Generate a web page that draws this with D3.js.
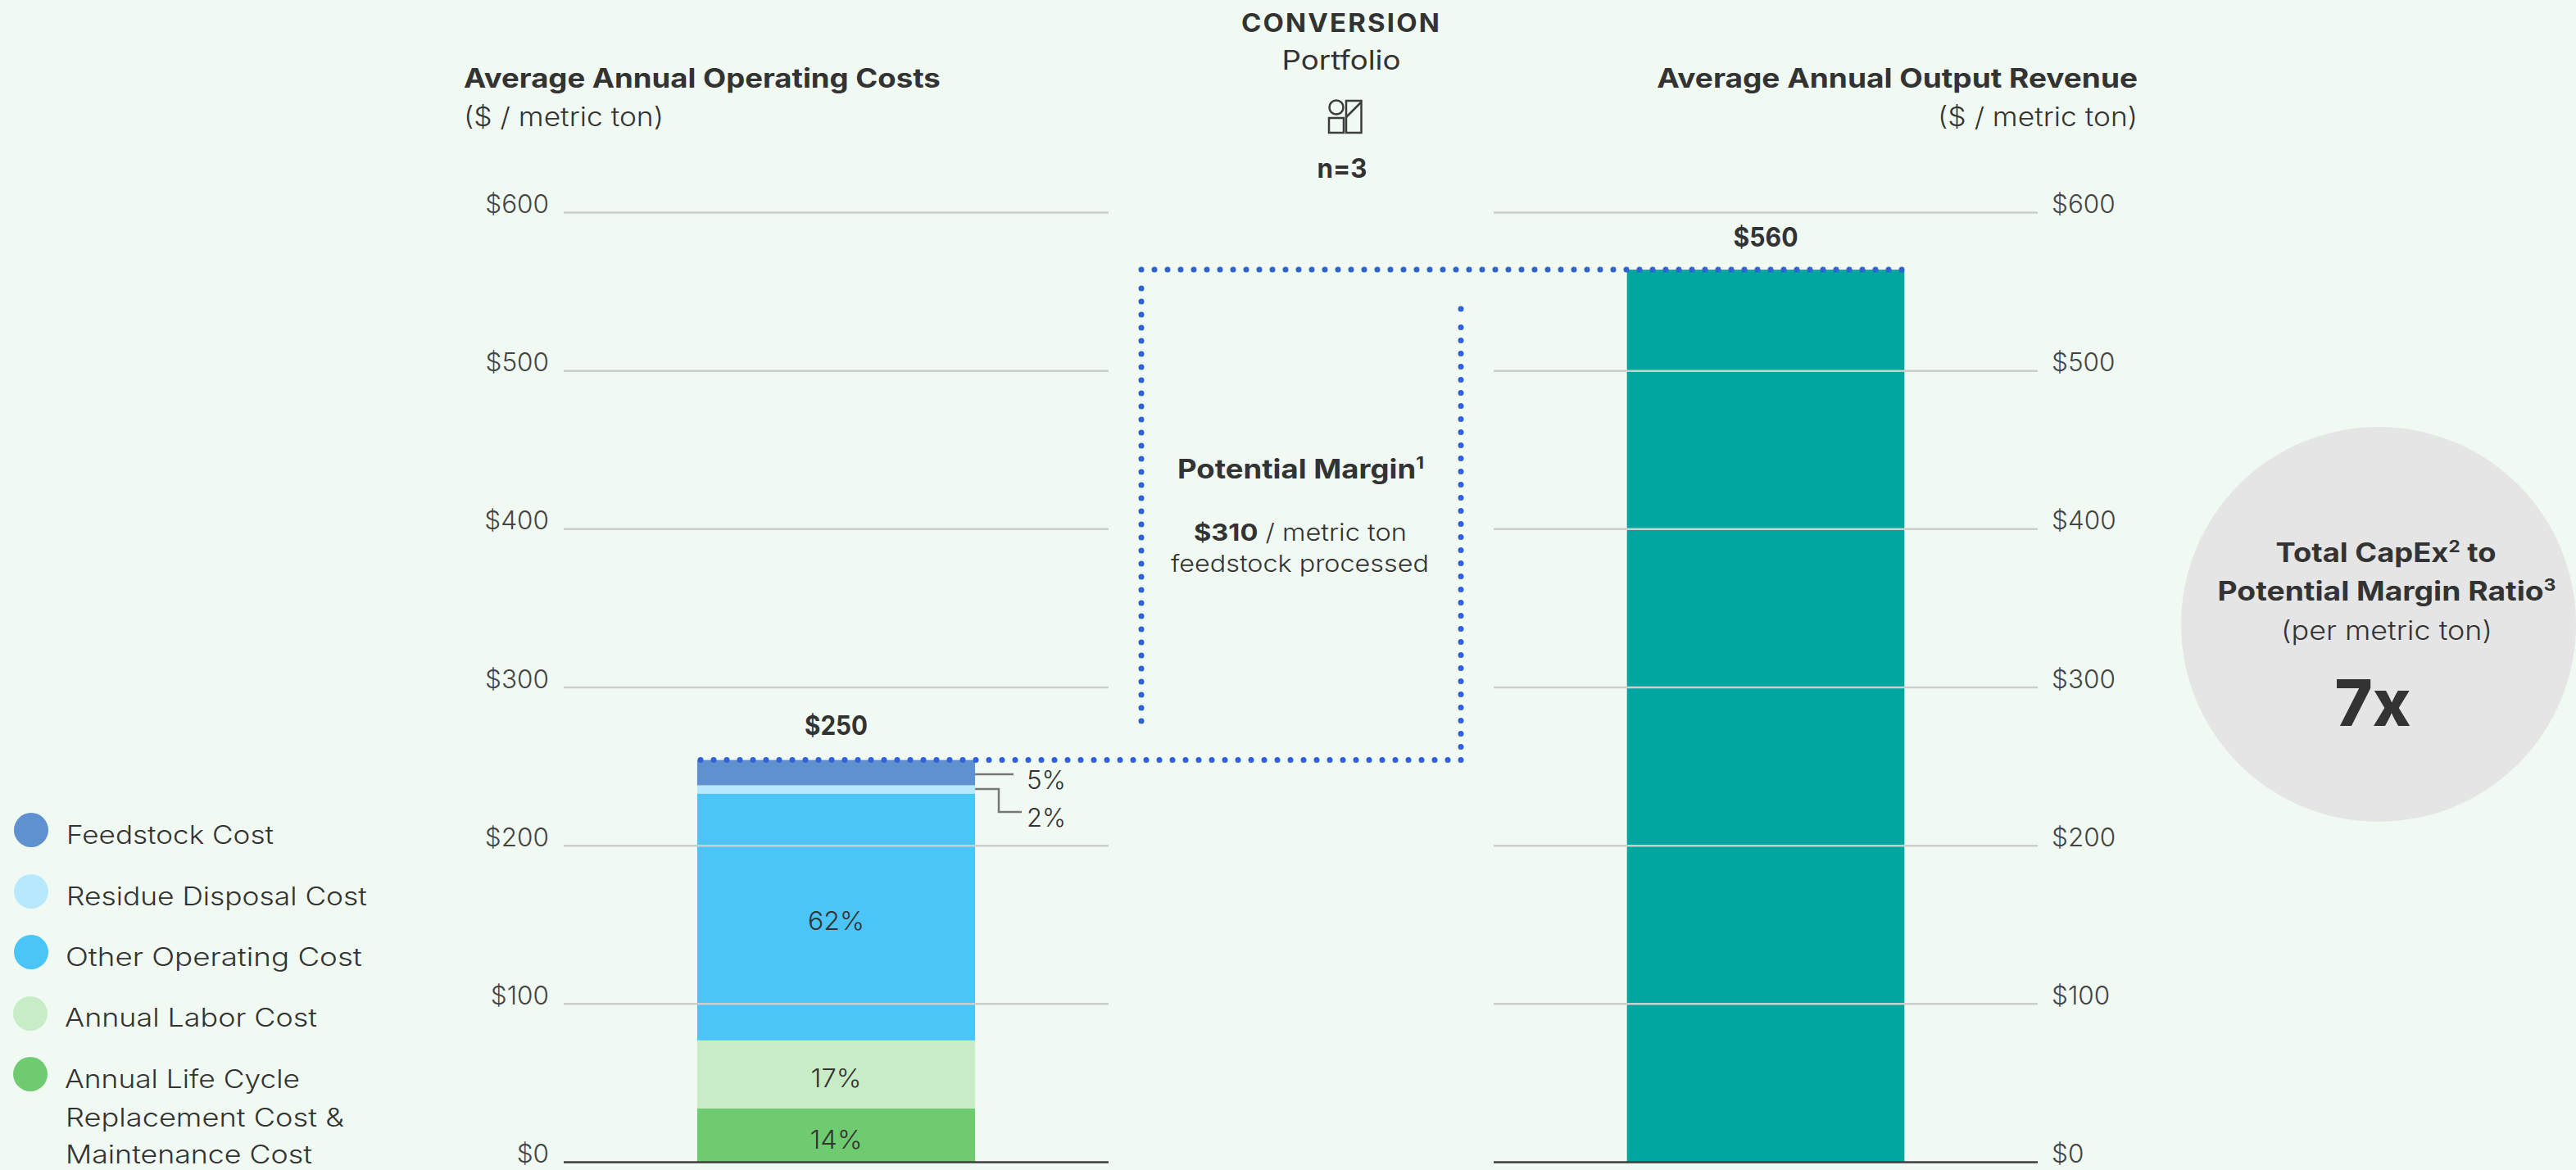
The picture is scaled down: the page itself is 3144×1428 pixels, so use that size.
<!DOCTYPE html>
<html>
<head>
<meta charset="utf-8">
<script src="https://cdn.jsdelivr.net/npm/d3@7"></script>
<style>
  html, body { margin: 0; padding: 0; background: #f0faf2; }
  svg { display: block; }
  text { font-family: Inter, "Noto Sans", sans-serif; fill: #333; }
  .axis .domain { display: none; }
  .axis line { stroke: #cdcdcd; stroke-width: 2.5; }
  .axis text { font-size: 31.5px; font-weight: 300; fill: #444; }
</style>
</head>
<body>
<div id="chart"></div>
<script>
const costNames = ["Annual Life Cycle Replacement Cost & Maintenance Cost", "Annual Labor Cost", "Other Operating Cost", "Residue Disposal Cost", "Feedstock Cost"];
const costValues = [33.7, 43, 156, 5.2, 16];
const costShares = ["14%", "17%", "62%", "2%", "5%"];
const costColors = ["#6fcb70", "#c8ecc6", "#4bc4f7", "#b8e8fd", "#5f90d0"];
const revenueValue = 563.7;
const costTotalLabel = "$250";
const revenueLabel = "$560";
const yTicks = [0, 100, 200, 300, 400, 500, 600];

const width = 3144;
const height = 1428;

const svg = d3.select("#chart").append("svg")
  .attr("width", width)
  .attr("height", height);

const y = d3.scaleLinear().domain([0, 600]).range([1418, 259]);
const xCost = d3.scaleBand().domain(["cost"]).range([688, 1353]).padding(0.3245);
const xRev = d3.scaleBand().domain(["revenue"]).range([1823, 2487]).padding(0.3245);

// text squeezed or stretched to the width it has in the reference (Montserrat is not installed)
function label(x, yPos, str, opts = {}) {
  const { size = 30, weight = 300, anchor = "start", w = null, fill = "#333", spacing = 0 } = opts;
  const t = svg.append("text")
    .attr("text-anchor", anchor)
    .attr("font-size", size)
    .attr("font-weight", weight)
    .attr("letter-spacing", spacing)
    .style("fill", fill);
  const parts = Array.isArray(str) ? str : [[str, {}]];
  parts.forEach(([s, o]) => {
    const ts = t.append("tspan").text(s);
    if (o.weight) ts.attr("font-weight", o.weight);
    if (o.sup) ts.attr("font-size", size * 0.62).attr("dy", -size * 0.36);
    if (o.after) ts.attr("dy", size * 0.36);
  });
  const k = w ? w / t.node().getComputedTextLength() : 1;
  t.attr("transform", `translate(${x},${yPos}) scale(${k},1)`);
  return t;
}

// stacked cost bar
const stack = d3.stack().keys(d3.range(costValues.length))([costValues]);
svg.append("g").selectAll("rect")
  .data(stack)
  .join("rect")
  .attr("x", xCost("cost"))
  .attr("width", xCost.bandwidth())
  .attr("y", d => y(d[0][1]))
  .attr("height", d => y(d[0][0]) - y(d[0][1]))
  .attr("fill", (d, i) => costColors[i]);

// revenue bar
svg.append("rect")
  .attr("x", xRev("revenue"))
  .attr("width", xRev.bandwidth())
  .attr("y", y(revenueValue))
  .attr("height", y(0) - y(revenueValue))
  .attr("fill", "#00a69f");

// Axes, gridlines sit over the bars
const fmtTick = d => `$${d}`;
svg.append("g")
  .attr("class", "axis")
  .attr("transform", "translate(688,0)")
  .call(d3.axisLeft(y).tickValues(yTicks).tickSize(-665).tickPadding(18).tickFormat(fmtTick))
  .selectAll("text").attr("dy", 0.5);
svg.append("g")
  .attr("class", "axis")
  .attr("transform", "translate(2487,0)")
  .call(d3.axisRight(y).tickValues(yTicks).tickSize(-664).tickPadding(17).tickFormat(fmtTick))
  .selectAll("text").attr("dy", 0.5);
svg.selectAll(".axis .tick").filter(d => d === 0).select("line")
  .style("stroke", "#3c3c3c").style("stroke-width", 2.5);

// Leaders for the two thin segments
const line = d3.line();
const barRight = xCost("cost") + xCost.bandwidth();
const leaderColor = "#777";
svg.append("path")
  .attr("d", line([[barRight, 945], [1237, 945]]))
  .attr("fill", "none").attr("stroke", leaderColor).attr("stroke-width", 2.5);
svg.append("path")
  .attr("d", line([[barRight, 963], [1219, 963], [1219, 991], [1247, 991]]))
  .attr("fill", "none").attr("stroke", leaderColor).attr("stroke-width", 2.5);

// Dotted margin bracket, ends run a pixel long so the last dot is not dropped
const yCostTop = y(d3.sum(costValues));
const yRevTop = y(revenueValue);
const dotted = (pts) => svg.append("path")
  .attr("d", line(pts))
  .attr("fill", "none")
  .attr("stroke", "#2f63d4")
  .attr("stroke-width", 7)
  .attr("stroke-linecap", "round")
  .attr("stroke-dasharray", "0 16");
dotted([[1393, yRevTop], [2322, yRevTop]]);
dotted([[1393, 352], [1393, 882]]);
dotted([[855, yCostTop], [1783, yCostTop], [1783, 399]]);
dotted([[1783, 377], [1783, 378]]);

// Headers
label(566, 107, "Average Annual Operating Costs", { size: 32, weight: 700, w: 582 });
label(566, 154, "($ / metric ton)", { size: 32, w: 244 });
label(2609, 107, "Average Annual Output Revenue", { size: 32, weight: 700, anchor: "end", w: 587 });
label(2609, 154, "($ / metric ton)", { size: 32, anchor: "end", w: 244 });

label(1637, 39, "CONVERSION", { size: 31, weight: 700, anchor: "middle", w: 244, spacing: 2 });
label(1637, 85, "Portfolio", { size: 32, anchor: "middle", w: 145, weight: 400 });
label(1638, 217, "n=3", { size: 32, weight: 700, anchor: "middle", w: 61 });

// portfolio icon
const icon = svg.append("g").attr("fill", "none").attr("stroke", "#3c3c3c").attr("stroke-width", 2.5);
icon.append("circle").attr("cx", 1631).attr("cy", 131).attr("r", 8.5);
icon.append("rect").attr("x", 1622).attr("y", 144).attr("width", 18).attr("height", 18);
icon.append("rect").attr("x", 1643).attr("y", 123).attr("width", 18.5).attr("height", 39);
icon.append("path").attr("d", line([[1643, 143], [1661, 125]]));

// Bar labels
const xCostMid = xCost("cost") + xCost.bandwidth() / 2;
label(xCostMid, 897, costTotalLabel, { size: 32, weight: 700, anchor: "middle", w: 77 });
label(xRev("revenue") + xRev.bandwidth() / 2, 301, revenueLabel, { size: 32, weight: 700, anchor: "middle", w: 79 });
label(xCostMid, 1135, costShares[2], { size: 31, weight: 300, anchor: "middle", w: 69 });
label(xCostMid, 1327, costShares[1], { size: 31, weight: 300, anchor: "middle", w: 62 });
label(xCostMid, 1402, costShares[0], { size: 31, weight: 300, anchor: "middle", w: 64 });
label(1253, 963, costShares[4], { size: 31, weight: 300, w: 48 });
label(1253, 1009, costShares[3], { size: 31, weight: 300, w: 48 });

// Margin callout
label(1437, 584, [["Potential Margin", {}], ["1", { sup: true }]], { size: 32, weight: 700, w: 301 });
label(1457, 660, [["$310", { weight: 700 }], [" / metric ton", {}]], { size: 29, w: 260 });
label(1429, 698, "feedstock processed", { size: 29, w: 315 });

// Legend
const legendRows = [
  { name: costNames[4], color: costColors[4], cx: 38, cy: 1013, lines: [[81, 1030, 253]] },
  { name: costNames[3], color: costColors[3], cx: 38, cy: 1088, lines: [[81, 1105, 367]] },
  { name: costNames[2], color: costColors[2], cx: 38, cy: 1162, lines: [[80, 1179, 362]] },
  { name: costNames[1], color: costColors[1], cx: 37, cy: 1237, lines: [[79, 1253, 308]] },
  { name: costNames[0], color: costColors[0], cx: 37, cy: 1311, lines: [[79, 1328, 287], [80, 1375, 340], [80, 1420, 301]] }
];
const wrapped = ["Annual Life Cycle", "Replacement Cost &", "Maintenance Cost"];
legendRows.forEach(row => {
  svg.append("circle")
    .attr("cx", row.cx).attr("cy", row.cy).attr("r", 21)
    .attr("fill", row.color);
  row.lines.forEach(([x, yPos, w], i) => {
    const str = row.lines.length > 1 ? wrapped[i] : row.name;
    label(x, yPos, str, { size: 31, w });
  });
});

// Ratio circle
svg.append("circle").attr("cx", 2903).attr("cy", 762).attr("r", 241).attr("fill", "#e5e5e5");
label(2912, 686, [["Total CapEx", {}], ["2", { sup: true }], [" to", { after: true }]], { size: 32, weight: 700, anchor: "middle", w: 269 });
label(2913, 733, [["Potential Margin Ratio", {}], ["3", { sup: true }]], { size: 32, weight: 700, anchor: "middle", w: 413 });
label(2913, 781, "(per metric ton)", { size: 32, anchor: "middle", w: 258 });
label(2896, 886, "7x", { size: 78, weight: 800, anchor: "middle", w: 93 });
</script>
</body>
</html>
